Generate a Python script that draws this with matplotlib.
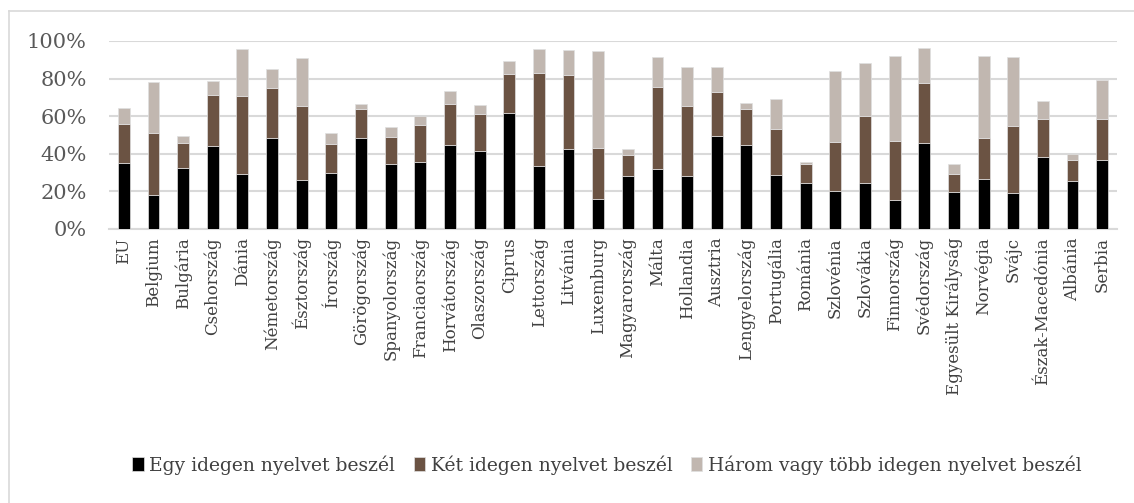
import matplotlib.pyplot as plt
from matplotlib.lines import Line2D
import numpy as np

countries = ['EU', 'Belgium', 'Bulgária', 'Csehország', 'Dánia', 'Németország', 'Észtország',
             'Írország', 'Görögország', 'Spanyolország', 'Franciaország', 'Horvátország',
             'Olaszország', 'Ciprus', 'Lettország', 'Litvánia', 'Luxemburg', 'Magyarország',
             'Málta', 'Hollandia', 'Ausztria', 'Lengyelország', 'Portugália', 'Románia',
             'Szlovénia', 'Szlovákia', 'Finnország', 'Svédország', 'Egyesült Királyság',
             'Norvégia', 'Svájc', 'Észak-Macedónia', 'Albánia', 'Serbia']

# cumulative levels (%)
one_lang = [35.1, 18.3, 32.4, 44.3, 29.4, 48.6, 26.2, 29.6, 48.6, 34.8, 35.5, 44.9,
            41.3, 61.9, 33.7, 42.7, 16.1, 28.4, 32.1, 28.4, 49.5, 44.9, 28.5, 24.6,
            20.4, 24.3, 15.4, 45.6, 19.9, 26.8, 19.3, 38.5, 25.7, 36.9]
two_top = [55.9, 51.2, 45.7, 71.3, 70.7, 75.0, 65.2, 45.2, 63.7, 48.9, 55.5, 66.7,
           61.3, 82.3, 82.8, 81.7, 43.3, 39.5, 75.5, 65.4, 72.7, 64.0, 53.4, 34.8,
           46.1, 59.9, 46.8, 77.5, 29.4, 48.2, 54.8, 58.3, 36.7, 58.5]
total = [64.4, 78.4, 49.5, 78.7, 95.6, 85.3, 91.0, 50.9, 66.5, 54.3, 60.1, 73.2,
         66.0, 89.4, 95.6, 95.4, 94.5, 42.4, 91.7, 86.2, 86.2, 67.0, 69.0, 35.5,
         84.0, 88.1, 92.0, 96.5, 34.4, 92.0, 91.5, 68.1, 39.9, 79.3]

labels = ['Egy idegen nyelvet beszél', 'Két idegen nyelvet beszél',
          'Három vagy több idegen nyelvet beszél']
colors = ['#000000', '#6B5343', '#C1B7B0']

one = np.array(one_lang) / 100
two = (np.array(two_top) - np.array(one_lang)) / 100
three = (np.array(total) - np.array(two_top)) / 100

plt.rcParams['font.family'] = ['DejaVu Serif']

fig = plt.figure(figsize=(11.34, 5.03), dpi=100)
ax = fig.add_axes([109 / 1134, 274 / 503, 1008 / 1134, 188 / 503])

x = np.arange(len(countries))
w = 0.4
ax.bar(x, one, w, color=colors[0], edgecolor='#E0E0E0', linewidth=0.5, label=labels[0], zorder=3)
ax.bar(x, two, w, bottom=one, color=colors[1], edgecolor='#E0E0E0', linewidth=0.5, label=labels[1], zorder=3)
ax.bar(x, three, w, bottom=one + two, color=colors[2], edgecolor='#E0E0E0', linewidth=0.5, label=labels[2], zorder=3)

ax.set_xlim(-0.5, len(countries) - 0.5)
ax.set_ylim(0, 1.0)
ax.set_yticks(np.arange(0, 1.01, 0.2))
ax.set_yticklabels([f'{int(v * 100)}%' for v in np.arange(0, 1.01, 0.2)], fontsize=15, color='#595959')
ax.set_xticks(x)
ax.set_xticklabels(countries, rotation=90, fontsize=12, color='#404040')
ax.tick_params(axis='x', length=0, pad=6)
ax.tick_params(axis='y', length=0, pad=16)
ax.yaxis.grid(True, color='#D9D9D9', linewidth=1.5, zorder=0)
for s in ['left', 'right', 'top']:
    ax.spines[s].set_visible(False)
ax.spines['bottom'].set_color('#D9D9D9')
ax.spines['bottom'].set_linewidth(1.5)

ax.legend(loc='center', bbox_to_anchor=(607 / 1134, 1 - 465 / 503), bbox_transform=fig.transFigure,
          ncol=3, frameon=False, fontsize=13.5, handlelength=0.6, handleheight=0.8,
          handletextpad=0.3, columnspacing=1.0, labelcolor='#404040')

# chart border (left and top edges visible)
fig.add_artist(Line2D([9 / 1134, 9 / 1134], [0, 1 - 11 / 503], transform=fig.transFigure, color='#D9D9D9', linewidth=1.2))
fig.add_artist(Line2D([9 / 1134, 1], [1 - 11 / 503, 1 - 11 / 503], transform=fig.transFigure, color='#D9D9D9', linewidth=1.2))

fig.savefig('out.png', dpi=100)
